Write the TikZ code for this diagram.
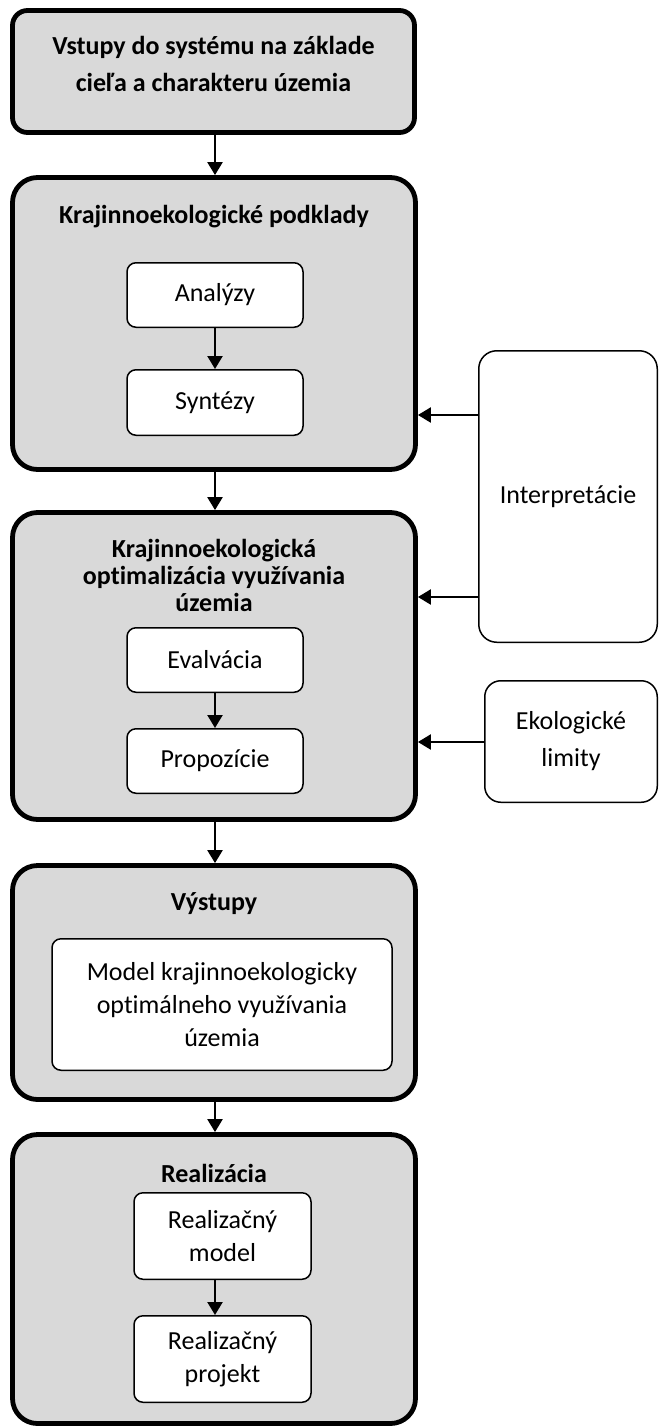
\documentclass[tikz,border=0pt]{standalone}
\usepackage{fontspec}
\setmainfont{Carlito}[RawFeature=-liga]
\usetikzlibrary{arrows.meta}
\begin{document}
\begin{tikzpicture}[x=1pt,y=-1pt,
  stage/.style={draw=black, line width=4.8pt, fill=black!15, rounded corners=25pt, inner sep=0pt},
  sub/.style={draw=black, line width=1.5pt, fill=white, rounded corners=9pt, inner sep=0pt,
    align=center, font=\fontsize{26}{33}\selectfont},
  side/.style={draw=black, line width=1.5pt, fill=white, rounded corners=18pt, inner sep=0pt,
    align=center, font=\fontsize{26}{37}\selectfont},
  heading/.style={inner sep=0pt, align=center, font=\bfseries\fontsize{26}{27}\selectfont},
  arr/.style={line width=2.3pt, -{Triangle[length=13pt,width=15pt]}},
]
\fill[white] (0,0) rectangle (660,1428);
\useasboundingbox (0,0) rectangle (660,1428);

% main stages
\node[stage, rounded corners=15pt, minimum width=402pt, minimum height=122pt] (b1) at (213.5,71.5) {};
\node[heading, font=\bfseries\fontsize{26}{37}\selectfont] (t1) at (213.5,64)
  {Vstupy do systému na základe\\cieľa a charakteru územia};

\node[stage, minimum width=403pt, minimum height=292pt] (b2) at (214,323.5) {};
\node[heading] (t2) at (214,217) {Krajinnoekologické podklady};
\node[sub, minimum width=176pt, minimum height=64.5pt] (analyzy) at (215,295) {Analýzy};
\node[sub, minimum width=176pt, minimum height=65.5pt] (syntezy) at (215,402.5) {Syntézy};

\node[stage, minimum width=403pt, minimum height=307pt] (b3) at (214,666) {};
\node[heading] (t3) at (214,575)
  {Krajinnoekologická\\optimalizácia využívania\\územia};
\node[sub, minimum width=176pt, minimum height=64.5pt] (evalvacia) at (215,660) {Evalvácia};
\node[sub, minimum width=176pt, minimum height=64.5pt] (propozicie) at (215,761) {Propozície};

\node[stage, minimum width=403pt, minimum height=234pt] (b4) at (214,982.5) {};
\node[heading] (t4) at (214,904) {Výstupy};
\node[sub, minimum width=340pt, minimum height=131.5pt] (model) at (222,1004.5)
  {Model krajinnoekologicky\\optimálneho využívania\\územia};

\node[stage, minimum width=403pt, minimum height=289pt] (b5) at (214,1279) {};
\node[heading] (t5) at (214,1173) {Realizácia};
\node[sub, minimum width=177pt, minimum height=86.5pt] (rmodel) at (222.5,1236) {Realizačný\\model};
\node[sub, minimum width=177pt, minimum height=86.5pt] (rprojekt) at (222.5,1359) {Realizačný\\projekt};

% side inputs
\node[side, minimum width=178.5pt, minimum height=291.5pt] (interp) at (568,496.5) {Interpretácie};
\node[side, rounded corners=16pt, minimum width=172.5pt, minimum height=121.5pt] (ekolimity) at (571,741.5)
  {Ekologické\\limity};

% connectors
\coordinate (ax) at (215,0);
\coordinate (ya) at (0,415);
\coordinate (yb) at (0,597);
\coordinate (yc) at (0,742);

\draw[arr] (b1.south -| ax) -- (b2.north -| ax);
\draw[arr] (b2.south -| ax) -- (b3.north -| ax);
\draw[arr] (b3.south -| ax) -- (b4.north -| ax);
\draw[arr] (b4.south -| ax) -- (b5.north -| ax);

\draw[arr] (analyzy.south -| ax) -- (syntezy.north -| ax);
\draw[arr] (evalvacia.south -| ax) -- (propozicie.north -| ax);
\draw[arr] (rmodel.south -| ax) -- (rprojekt.north -| ax);

\draw[arr] (interp.west |- ya) -- (b2.east |- ya);
\draw[arr] (interp.west |- yb) -- (b3.east |- yb);
\draw[arr] (ekolimity.west |- yc) -- (b3.east |- yc);
\end{tikzpicture}
\end{document}
